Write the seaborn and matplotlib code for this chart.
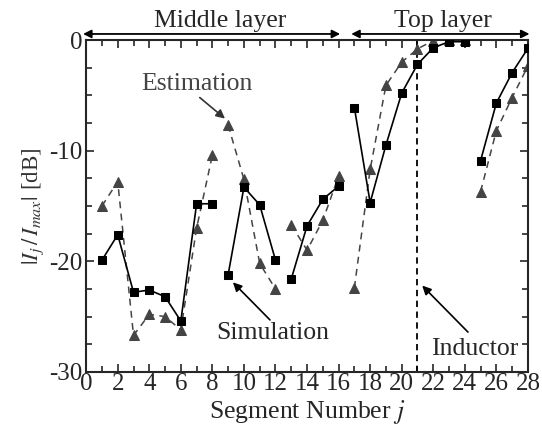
import pandas as pd
import matplotlib
matplotlib.use("Agg")
import matplotlib.pyplot as plt
from matplotlib.ticker import MultipleLocator
import numpy as np
import seaborn as sns

# segment numbers and the runs of connected points
segments = np.arange(1, 29)
groups = [1] * 8 + [2] * 4 + [3] * 4 + [4] * 8 + [5] * 4

simulation = [-19.9, -17.6, -22.8, -22.6, -23.2, -25.4, -14.8, -14.8,
              -21.2, -13.3, -14.9, -19.9,
              -21.6, -16.8, -14.4, -13.2,
              -6.1, -14.7, -9.5, -4.8, -2.2, -0.7, -0.15, -0.15,
              -10.9, -5.7, -2.95, -0.75]
estimation = [-15.0, -12.8, -26.7, -24.8, -25.0, -26.2, -17.0, -10.4,
              -7.7, -12.6, -20.2, -22.5,
              -16.7, -19.0, -16.3, -12.3,
              -22.4, -11.7, -4.1, -2.0, -0.8, -0.05, 0.0, 0.0,
              -13.7, -8.2, -5.2, -2.35]

inductor_segment = 21

df = pd.DataFrame({"segment": segments, "group": groups,
                   "Simulation": simulation, "Estimation": estimation})

sns.set_style("ticks")
plt.rcParams["font.family"] = ["Liberation Serif", "DejaVu Serif"]
plt.rcParams["mathtext.fontset"] = "stix"
plt.rcParams["axes.unicode_minus"] = False

fig = plt.figure(figsize=(5.42, 4.26), dpi=100)
ax = fig.add_axes([0.159, 0.127, 0.815, 0.779])

gray = "#444444"
for g, part in df.groupby("group"):
    sns.lineplot(data=part, x="segment", y="Estimation", ax=ax, color=gray,
                 marker="^", markersize=6.5, markeredgecolor=gray,
                 linewidth=1.1, dashes=(4.5, 3.5), legend=False, zorder=2)
    sns.lineplot(data=part, x="segment", y="Simulation", ax=ax, color="black",
                 marker="s", markersize=6, markeredgecolor="black",
                 linewidth=1.2, legend=False, zorder=3)

ax.axvline(inductor_segment, ymin=0, ymax=1, color="black",
           linestyle=(0, (3.5, 2.5)), linewidth=1.3, zorder=1)

ax.set_xlim(0, 28)
ax.set_ylim(-30, 0)
ax.xaxis.set_major_locator(MultipleLocator(2))
ax.xaxis.set_minor_locator(MultipleLocator(1))
ax.yaxis.set_major_locator(MultipleLocator(10))
ax.yaxis.set_minor_locator(MultipleLocator(2.5))
ax.tick_params(which="both", direction="in", top=True, right=True,
               labelsize=18, width=1.2)
ax.tick_params(axis="x", pad=1)
ax.tick_params(axis="y", pad=3)
ax.tick_params(which="major", length=6)
ax.tick_params(which="minor", length=4)
for s in ax.spines.values():
    s.set_linewidth(1.5)

ax.set_xlabel("Segment Number $j$", fontsize=18.5, labelpad=2)
ax.set_ylabel(r"$|I_j\,/\,I_{max}|$ [dB]", fontsize=16.5, color="#333333",
              labelpad=2)

# layer arrows above the axes
arr = dict(arrowstyle="<|-|>", color="black", lw=1.3,
           mutation_scale=12, shrinkA=0, shrinkB=0)
ax.annotate("", xy=(-0.2, 0.55), xytext=(16.1, 0.55), arrowprops=arr,
            annotation_clip=False)
ax.annotate("", xy=(16.8, 0.55), xytext=(28.1, 0.55), arrowprops=arr,
            annotation_clip=False)
ax.text(8.5, 0.75, "Middle layer", ha="center", va="bottom", fontsize=18.5)
ax.text(22.6, 0.75, "Top layer", ha="center", va="bottom", fontsize=18.5)

pointer = dict(arrowstyle="-|>", color="black", lw=1.2,
               mutation_scale=13, shrinkA=0, shrinkB=0)
ax.text(7.0, -4.0, "Estimation", fontsize=18.5, color=gray,
        ha="center", va="center")
ax.annotate("", xy=(8.8, -7.1), xytext=(7.2, -5.2),
            arrowprops=dict(pointer, color="#333333"))
ax.annotate("", xy=(9.3, -21.9), xytext=(11.65, -25.3),
            arrowprops=pointer)
ax.text(11.85, -26.5, "Simulation", fontsize=18.5, ha="center", va="center")
ax.annotate("", xy=(21.3, -22.2), xytext=(24.2, -26.4),
            arrowprops=pointer)
ax.text(24.6, -27.9, "Inductor", fontsize=18.5, ha="center", va="center")

fig.savefig("out.png", dpi=100)
